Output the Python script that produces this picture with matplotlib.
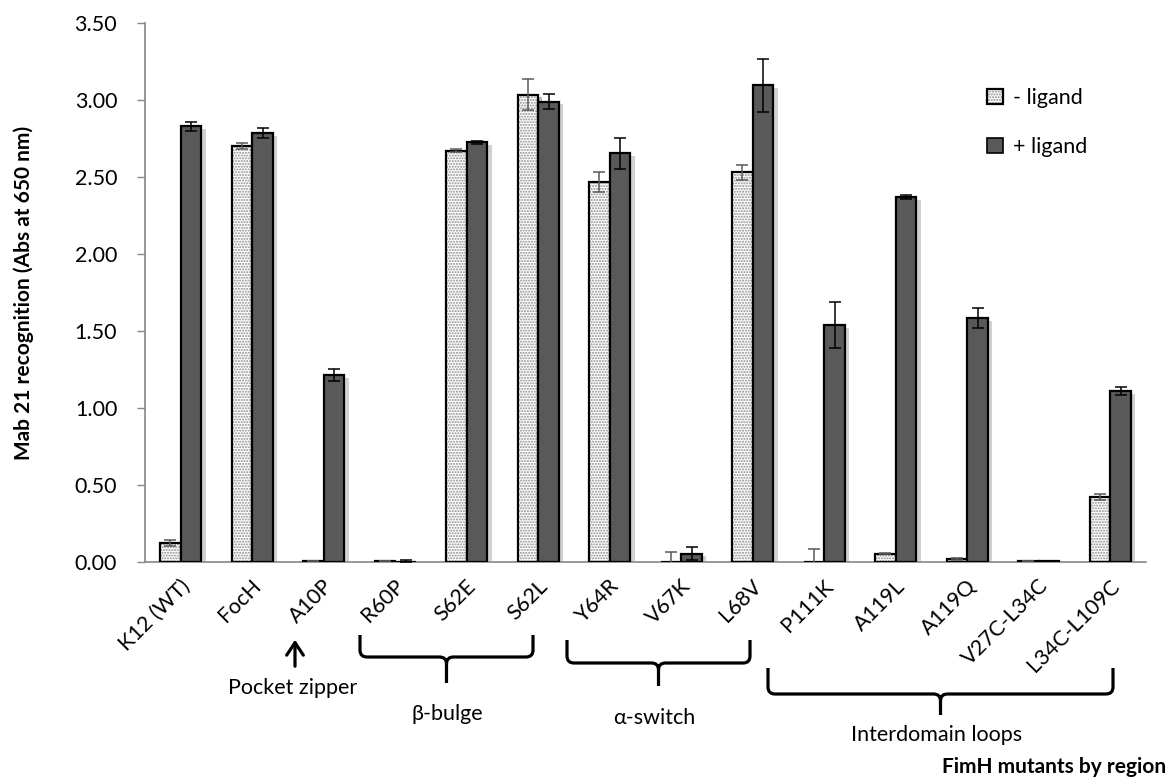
import matplotlib
matplotlib.use('Agg')
import matplotlib.pyplot as plt
import matplotlib.patheffects as pe
import numpy as np
from matplotlib.patches import Patch, PathPatch, FancyArrowPatch
from matplotlib.path import Path
from matplotlib.transforms import Affine2D, ScaledTranslation

plt.rcParams['font.family'] = ['Lato', 'DejaVu Sans']

mutants = ['K12 (WT)', 'FocH', 'A10P', 'R60P', 'S62E', 'S62L', 'Y64R',
           'V67K', 'L68V', 'P111K', 'A119L', 'A119Q', 'V27C-L34C', 'L34C-L109C']
minus_ligand = [0.125, 2.70, 0.005, 0.005, 2.67, 3.035, 2.465,
                0.0, 2.53, 0.0, 0.054, 0.018, 0.006, 0.424]
minus_err = [0.02, 0.02, 0.0, 0.0, 0.01, 0.10, 0.065,
             0.063, 0.05, 0.087, 0.005, 0.005, 0.0, 0.02]
plus_ligand = [2.83, 2.786, 1.215, 0.003, 2.725, 2.99, 2.655,
               0.055, 3.095, 1.54, 2.37, 1.585, 0.004, 1.11]
plus_err = [0.03, 0.03, 0.04, 0.01, 0.01, 0.05, 0.10,
            0.045, 0.17, 0.15, 0.015, 0.065, 0.0, 0.025]
y_ticks = [0.0, 0.5, 1.0, 1.5, 2.0, 2.5, 3.0, 3.5]

FS = 15.5
W, H = 1167, 779
fig = plt.figure(figsize=(W / 100, H / 100), dpi=100)
ax = fig.add_axes([145 / W, 217 / H, 1001 / W, 539 / H])
pix = Affine2D().scale(1 / W, -1 / H).translate(0, 1) + fig.transFigure

x = np.arange(len(mutants))
width = 0.29
shadow = [pe.SimplePatchShadow(offset=(3, -2), shadow_rgbFace='#9a9a9a', alpha=0.45), pe.Normal()]

dotted = ax.bar(x - width / 2, minus_ligand, width, color='white', edgecolor='#8c8c8c',
                hatch='......', linewidth=0, zorder=2)
for bar in dotted:
  bar.set_path_effects(shadow)
ax.bar(x - width / 2, minus_ligand, width, color='none', edgecolor='black',
       linewidth=1.6, zorder=3)
dark = ax.bar(x + width / 2, plus_ligand, width, color='#595959', edgecolor='black',
              linewidth=1.6, zorder=3)
for bar in dark:
  bar.set_path_effects(shadow)

ax.errorbar(x - width / 2, minus_ligand, yerr=minus_err, fmt='none', ecolor='#5a5a5a',
            elinewidth=1.1, capsize=4.5, capthick=1.1, zorder=4)
ax.errorbar(x + width / 2, plus_ligand, yerr=plus_err, fmt='none', ecolor='black',
            elinewidth=1.1, capsize=4.5, capthick=1.1, zorder=4)

ax.set_xlim(-0.5, len(mutants) - 0.5)
ax.set_ylim(0, 3.5)
ax.set_yticks(y_ticks)
ax.set_yticklabels([f'{v:.2f}' for v in y_ticks], fontsize=FS)
ax.tick_params(axis='y', length=6, width=1, color='#868686', pad=14)
ax.set_xticks(x)
ax.set_xticklabels(mutants, fontsize=FS, rotation=45, ha='right', va='center',
                   rotation_mode='anchor')
ax.tick_params(axis='x', length=0, pad=15)
offset = ScaledTranslation(6 / 100, 0, fig.dpi_scale_trans)
for label in ax.get_xticklabels():
  label.set_transform(label.get_transform() + offset)
for side in ('top', 'right'):
  ax.spines[side].set_visible(False)
for side in ('left', 'bottom'):
  ax.spines[side].set_color('#868686')
  ax.spines[side].set_linewidth(1.2)

ax.set_ylabel('Mab 21 recognition (Abs at 650 nm)', fontsize=15, fontweight='bold', labelpad=29)

legend_handles = [
  (Patch(facecolor='white', edgecolor='#8c8c8c', hatch='......', linewidth=0),
   Patch(facecolor='none', edgecolor='black', linewidth=1.6)),
  Patch(facecolor='#595959', edgecolor='black', linewidth=1.2),
]
ax.legend(legend_handles, ['- ligand', '+ ligand'], loc='upper left',
          bbox_to_anchor=(987, 88), bbox_transform=pix, frameon=False, fontsize=FS,
          borderpad=0, borderaxespad=0, handlelength=0.75, handleheight=0.75,
          handletextpad=0.45, labelspacing=1.35)


def brace(x0, x1, top, mid, tip, r=7):
  xm = (x0 + x1) / 2
  verts = [(x0, top), (x0, mid - r), (x0, mid), (x0 + r, mid), (xm - r, mid), (xm, mid),
           (xm, mid + r), (xm, tip),
           (x1, top), (x1, mid - r), (x1, mid), (x1 - r, mid), (xm + r, mid), (xm, mid),
           (xm, mid + r)]
  codes = [Path.MOVETO, Path.LINETO, Path.CURVE3, Path.CURVE3, Path.LINETO, Path.CURVE3,
           Path.CURVE3, Path.LINETO,
           Path.MOVETO, Path.LINETO, Path.CURVE3, Path.CURVE3, Path.LINETO, Path.CURVE3,
           Path.CURVE3]
  fig.add_artist(PathPatch(Path(verts, codes), transform=pix, facecolor='none',
                           edgecolor='black', linewidth=2.3, capstyle='butt'))


brace(360, 533, 635, 657, 683)
brace(567, 750, 640, 663, 686)
brace(768, 1113, 668, 694, 715)
fig.add_artist(FancyArrowPatch((295, 669), (295, 637), transform=pix,
                               arrowstyle='->,head_length=0.45,head_width=0.3',
                               linewidth=2.3, color='black', mutation_scale=20))

fig.text(293, 688, 'Pocket zipper', transform=pix, fontsize=FS, ha='center', va='center')
fig.text(447, 714, 'β-bulge', transform=pix, fontsize=FS, ha='center', va='center')
fig.text(654, 718, 'α-switch', transform=pix, fontsize=FS, ha='center', va='center')
fig.text(937, 735, 'Interdomain loops', transform=pix, fontsize=FS, ha='center', va='center')
fig.text(1166, 767, 'FimH mutants by region', transform=pix, fontsize=15,
         fontweight='bold', ha='right', va='center')

fig.savefig('out.png', dpi=100)
